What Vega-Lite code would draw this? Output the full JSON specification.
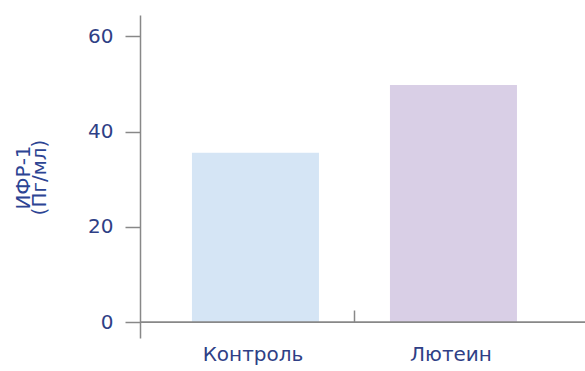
{
  "$schema": "https://vega.github.io/schema/vega-lite/v6.json",
  "width": 445,
  "height": 323,
  "autosize": "none",
  "padding": {"left": 140, "top": 15, "right": 0, "bottom": 33},
  "background": "white",
  "config": {"view": {"stroke": null}, "font": "DejaVu Sans"},
  "data": {"values": [
    {"group": "Контроль", "value": 35.6},
    {"group": "Лютеин", "value": 49.8}
  ]},
  "layer": [
    {
      "mark": {"type": "bar"},
      "encoding": {
        "x": {
          "field": "group", "type": "nominal", "sort": null,
          "scale": {"paddingInner": 0.3586, "paddingOuter": 0.303, "align": 0.433},
          "axis": {
            "title": null, "domain": false, "offset": -16,
            "tickSize": -12, "tickOffset": 99, "labelOffset": -102,
            "tickColor": "#888888", "tickWidth": 1.5,
            "tickOpacity": {"condition": {"test": "datum.value === 'Контроль'", "value": 1}, "value": 0},
            "labelAngle": 0, "labelFontSize": 20, "labelColor": "#2f3f86",
            "labelPadding": 34, "labelBaseline": "top"
          }
        },
        "y": {
          "field": "value", "type": "quantitative",
          "scale": {"domain": [-3.3, 64.5], "nice": false, "zero": false},
          "axis": {
            "values": [0, 20, 40, 60], "grid": false,
            "tickSize": 15, "tickColor": "#888888", "tickWidth": 1.5,
            "domainColor": "#888888", "domainWidth": 1.5,
            "labelFontSize": 20, "labelColor": "#2f3f86", "labelPadding": 12,
            "title": ["ИФР-1", "(Пг/мл)"], "titleFontSize": 20, "titleFontWeight": "normal",
            "titleColor": "#2c4493", "titleAngle": -90, "titleX": -107, "titleY": 162,
            "titleLineHeight": 16, "titleBaseline": "bottom", "titleAlign": "center"
          }
        },
        "color": {
          "field": "group", "type": "nominal",
          "scale": {"domain": ["Контроль", "Лютеин"], "range": ["#d5e5f5", "#d9cfe6"]},
          "legend": null
        }
      }
    },
    {
      "mark": {"type": "rule", "color": "#888888", "strokeWidth": 1.5},
      "encoding": {"y": {"datum": 0}}
    }
  ]
}
